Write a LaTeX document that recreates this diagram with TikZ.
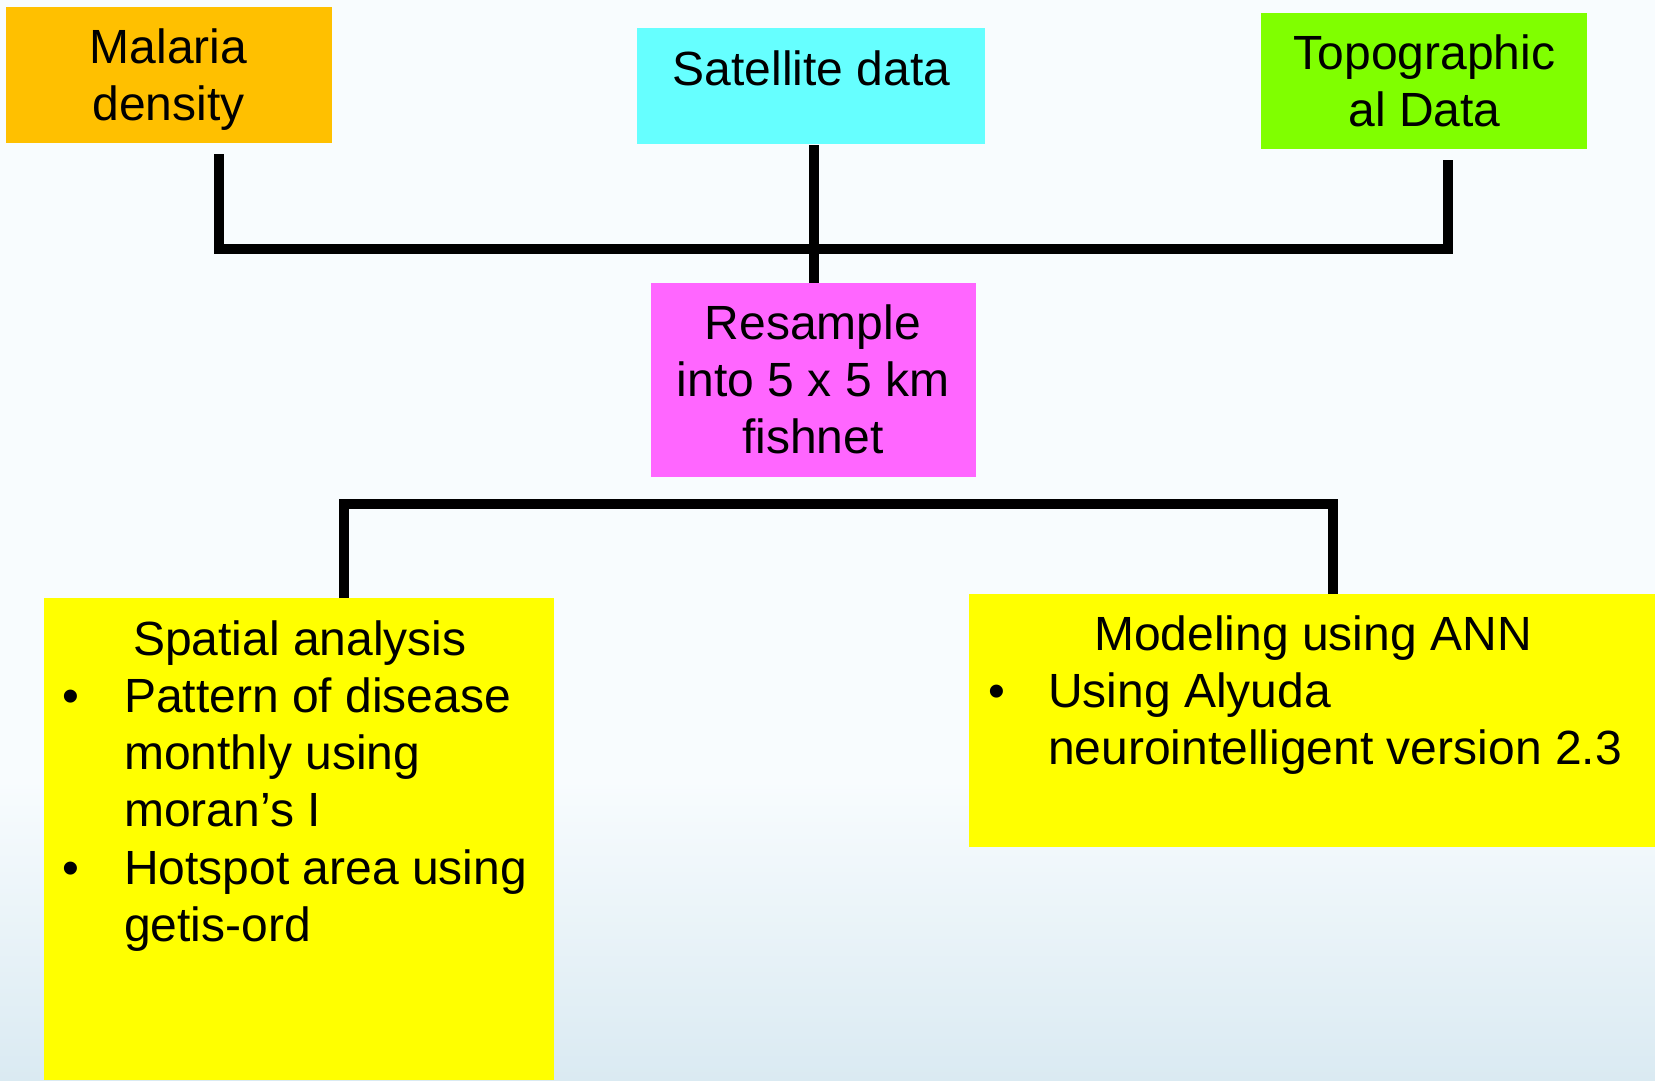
\documentclass[tikz,border=0pt]{standalone}
\usepackage{fontspec}
\setmainfont{Liberation Sans}
\definecolor{bgtop}{HTML}{F8FCFE}
\definecolor{bgbot}{HTML}{DAEAF2}
\definecolor{cmal}{HTML}{FFC000}
\definecolor{csat}{HTML}{66FFFF}
\definecolor{ctopo}{HTML}{80FF00}
\definecolor{cres}{HTML}{FF66FF}
\definecolor{cyel}{HTML}{FFFF00}
\newcommand{\fstrut}{\rule{0pt}{40pt}}
\tikzset{
  box/.style={rectangle, inner sep=0pt, draw=none},
  txt/.style={inner sep=0pt, font=\fontsize{48}{57}\selectfont, text=black},
  bul/.style={inner sep=0pt, font=\fontsize{48}{57}\selectfont, anchor=base},
  bus/.style={draw=black, line width=10pt, line join=miter}
}
\begin{document}
\begin{tikzpicture}[x=1pt,y=-1pt]
\useasboundingbox (0,0) rectangle (1655,1080);
\fill[bgtop] (0,0) rectangle (1655,1080);
\shade[top color=bgtop, bottom color=bgbot] (0,780) rectangle (1655,1080);

% boxes
\node[box, fill=cmal, minimum width=326pt, minimum height=136pt] (mal) at (169,75) {};
\node[box, fill=csat, minimum width=348pt, minimum height=116pt] (sat) at (811,86) {};
\node[box, fill=ctopo, minimum width=326pt, minimum height=136pt] (topo) at (1424,81) {};
\node[box, fill=cres, minimum width=325pt, minimum height=194pt] (res) at (813.5,380) {};
\node[box, fill=cyel, minimum width=510pt, minimum height=482pt] (spa) at (299,839) {};
\node[box, fill=cyel, minimum width=700pt, minimum height=253pt] (mod) at (1319,720.5) {};

% texts
\node[txt, align=center, anchor=north] (malt) at (168.5,23) {\fstrut Malaria\\density};
\node[txt, align=center, anchor=north] (satt) at (811.5,45) {\fstrut Satellite data};
\node[txt, align=center, anchor=north] (topot) at (1424.5,29) {\fstrut Topographic\\al Data};
\node[txt, align=center, anchor=north] (rest) at (813,299) {\fstrut Resample\\into 5 x 5 km\\fishnet};

\node[txt, align=center, anchor=north] (spah) at (300,615) {\fstrut Spatial analysis};
\node[bul] (spab1) at (71,712) {•};
\node[txt, align=left, anchor=north west] (spai1) at (124,672) {\fstrut Pattern of disease\\monthly using\\moran’s I};
\node[bul] (spab2) at (71,884) {•};
\node[txt, align=left, anchor=north west] (spai2) at (124,844) {\fstrut Hotspot area using\\getis-ord};

\node[txt, align=center, anchor=north] (modh) at (1313,610) {\fstrut Modeling using ANN};
\node[bul] (modb1) at (997,707) {•};
\node[txt, align=left, anchor=north west] (modi1) at (1048,667) {\fstrut Using Alyuda\\neurointelligent version 2.3};

% connectors
\coordinate (mtop) at ([xshift=50pt,yshift=-11pt]mal.south);
\coordinate (ttop) at ([xshift=23.5pt,yshift=-11pt]topo.south);
\coordinate (busl) at (219,248.5);
\coordinate (busr) at (1447.5,248.5);
\draw[bus] (mtop) -- (busl) -- (busr) -- (ttop);
\draw[bus] ([yshift=-1pt]sat.south -| res.north) -- (res.north);

\coordinate (lbl) at (344,504);
\coordinate (lbr) at (1333,504);
\draw[bus] (spa.north -| lbl) -- (lbl) -- (lbr) -- (mod.north -| lbr);
\end{tikzpicture}
\end{document}
